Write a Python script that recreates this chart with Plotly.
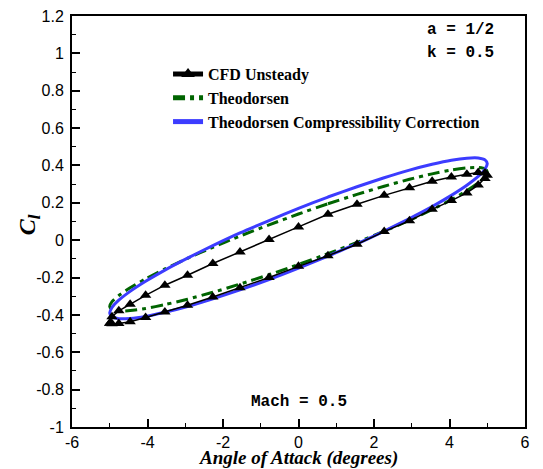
import plotly.graph_objects as go

# CFD unsteady (markers)
cfd_alpha = [-5, -4.94, -4.76, -4.46, -4.05, -3.54, -2.94, -2.27, -1.55, -0.78, 0, 0.78, 1.55, 2.27, 2.94, 3.54, 4.05, 4.46, 4.76, 4.94, 5,
             4.94, 4.76, 4.46, 4.05, 3.54, 2.94, 2.27, 1.55, 0.78, 0, -0.78, -1.55, -2.27, -2.94, -3.54, -4.05, -4.46, -4.76, -4.94, -5]
cfd_cl = [-0.445, -0.447, -0.446, -0.437, -0.414, -0.384, -0.348, -0.304, -0.254, -0.200, -0.140, -0.083, -0.022, 0.046, 0.104, 0.165, 0.212, 0.253, 0.295, 0.330, 0.347,
          0.360, 0.362, 0.353, 0.338, 0.315, 0.281, 0.240, 0.192, 0.139, 0.071, 0.003, -0.063, -0.125, -0.188, -0.241, -0.295, -0.343, -0.378, -0.410, -0.445]

# Theory curves (shared alpha samples)
th_alpha = [0, 0.78, 1.55, 2.27, 2.94, 3.54, 4.05, 4.46, 4.76, 4.94, 5, 4.94, 4.76, 4.46, 4.05, 3.54, 2.94, 2.27, 1.55, 0.78,
            0, -0.78, -1.55, -2.27, -2.94, -3.54, -4.05, -4.46, -4.76, -4.94, -5, -4.94, -4.76, -4.46, -4.05, -3.54, -2.94, -2.27, -1.55, -0.78, 0]
theo_cl = [0.140, 0.195, 0.245, 0.289, 0.326, 0.355, 0.376, 0.387, 0.389, 0.382, 0.365, 0.340, 0.306, 0.265, 0.217, 0.164, 0.107, 0.048, -0.012, -0.072,
           -0.130, -0.185, -0.235, -0.279, -0.316, -0.345, -0.366, -0.377, -0.379, -0.372, -0.355, -0.329, -0.296, -0.255, -0.207, -0.154, -0.097, -0.038, 0.022, 0.082, 0.140]
comp_cl = [0.170, 0.231, 0.286, 0.334, 0.375, 0.406, 0.428, 0.439, 0.440, 0.430, 0.410, 0.380, 0.341, 0.294, 0.240, 0.180, 0.116, 0.049, -0.019, -0.085,
           -0.150, -0.211, -0.266, -0.314, -0.355, -0.386, -0.408, -0.419, -0.420, -0.410, -0.390, -0.360, -0.321, -0.274, -0.220, -0.160, -0.096, -0.029, 0.039, 0.105, 0.170]

x_ticks = [-6, -4, -2, 0, 2, 4, 6]
x_ticktext = ["-6", "-4", "-2", "0", "2", "4", "6"]
y_ticks = [-1, -0.8, -0.6, -0.4, -0.2, 0, 0.2, 0.4, 0.6, 0.8, 1, 1.2]
y_ticktext = ["-1", "-0.8", "-0.6", "-0.4", "-0.2", "0", "0.2", "0.4", "0.6", "0.8", "1", "1.2"]

fig = go.Figure()
fig.add_trace(go.Scatter(x=th_alpha, y=theo_cl, mode="lines", name="Theodorsen", legendrank=2,
                         line=dict(color="#006400", width=3, dash="12px,5px,4px,5px", shape="spline", smoothing=0.6)))
fig.add_trace(go.Scatter(x=th_alpha, y=comp_cl, mode="lines", name="Theodorsen Compressibility Correction", legendrank=3,
                         line=dict(color="#3c3cff", width=3, shape="spline", smoothing=0.6)))
fig.add_trace(go.Scatter(x=cfd_alpha, y=cfd_cl, mode="lines+markers", name="CFD Unsteady", legendrank=1,
                         line=dict(color="black", width=1.5),
                         marker=dict(symbol="triangle-up", size=10, color="black")))

tickfont = dict(family="Liberation Sans, Arial", size=16, color="black")
fig.update_xaxes(range=[-6, 6], tickvals=x_ticks, ticktext=x_ticktext, ticks="inside", ticklen=8, tickwidth=2,
                 tickcolor="black", minor=dict(dtick=1, ticks="inside", ticklen=4, tickwidth=1, tickcolor="black"),
                 showline=True, linecolor="black", linewidth=2, mirror=True, showgrid=False, zeroline=False,
                 tickfont=tickfont, automargin=False)
fig.update_yaxes(range=[-1, 1.2], tickvals=y_ticks, ticktext=y_ticktext, ticks="inside", ticklen=8, tickwidth=2,
                 tickcolor="black", minor=dict(dtick=0.1, ticks="inside", ticklen=4, tickwidth=1, tickcolor="black"),
                 showline=True, linecolor="black", linewidth=2, mirror=True, showgrid=False, zeroline=False,
                 tickfont=tickfont, automargin=False, ticklabelstandoff=3)

mono = dict(family="Liberation Mono, Courier New", size=16, color="black", weight="bold")
fig.add_annotation(x=5.23, y=1.123, xref="x", yref="y", text="a = 1/2", showarrow=False, xanchor="right", font=mono)
fig.add_annotation(x=5.23, y=1.0, xref="x", yref="y", text="k = 0.5", showarrow=False, xanchor="right", font=mono)
fig.add_annotation(x=0, y=-0.865, xref="x", yref="y", text="Mach = 0.5", showarrow=False, font=mono)
fig.add_annotation(x=-0.1325, y=0.493, xref="paper", yref="paper", text="C<sub>l</sub>", showarrow=False, textangle=-90,
                   font=dict(family="Liberation Serif, Times New Roman", size=24, color="black", weight="bold", style="italic"))
fig.add_annotation(x=0.5, y=-0.106, xref="paper", yref="paper", text="Angle of Attack (degrees)", showarrow=False,
                   yanchor="bottom",
                   font=dict(family="Liberation Serif, Times New Roman", size=19, color="black", weight="bold", style="italic"))

fig.update_layout(
    width=543, height=469,
    margin=dict(l=72, r=18, t=16, b=42),
    paper_bgcolor="white", plot_bgcolor="white",
    showlegend=True,
    legend=dict(x=0.212, y=0.9, xanchor="left", yanchor="top", bgcolor="rgba(0,0,0,0)",
                font=dict(family="Liberation Serif, Times New Roman", size=16, color="black", weight="bold"),
                tracegroupgap=0, itemsizing="constant"),
)

fig.write_html("out.html")
